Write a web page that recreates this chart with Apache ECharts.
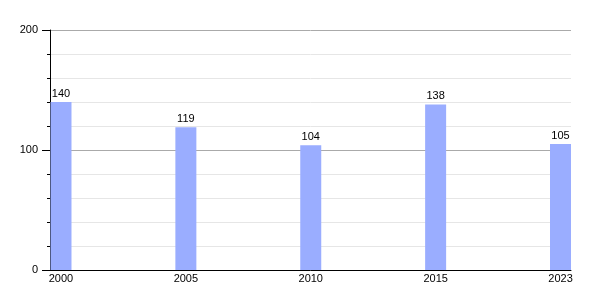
<!DOCTYPE html>
<html><head><meta charset="utf-8">
<script src="https://cdn.jsdelivr.net/npm/echarts@6/dist/echarts.min.js"></script>
<style>html,body{margin:0;padding:0;background:#fff}#c{width:600px;height:300px}</style>
</head><body><div id="c"></div>
<script>
const years = ['2000', '2005', '2010', '2015', '2023'];
const values = [140, 119, 104, 138, 105];
const yTicks = [0, 100, 200];

const chart = echarts.init(document.getElementById('c'), null, {renderer: 'canvas'});
const font = 'Liberation Sans, Arial, sans-serif';
chart.setOption({
  animation: false,
  grid: {left: 50, right: 29, top: 30, bottom: 30},
  xAxis: {
    type: 'value', min: -0.088, max: 4.084,
    axisLine: {show: true, onZero: false, lineStyle: {color: '#000', width: 1}},
    axisTick: {show: false},
    splitLine: {show: false},
    axisLabel: {
      customValues: years.map((y, i) => i),
      formatter: v => years[Math.round(v)],
      color: '#000', fontSize: 11, fontFamily: font, margin: 3
    }
  },
  yAxis: {
    type: 'value', min: 0, max: 200, interval: 100,
    axisLine: {show: true, onZero: false, lineStyle: {color: '#000', width: 1}},
    axisTick: {show: true, length: 8, lineStyle: {color: '#000'}},
    minorTick: {show: true, splitNumber: 5, length: 3, lineStyle: {color: '#000'}},
    splitLine: {show: true, lineStyle: {color: '#aaaaaa', width: 1}},
    minorSplitLine: {show: true, lineStyle: {color: '#e6e6e6', width: 1}},
    axisLabel: {
      customValues: yTicks,
      color: '#000', fontSize: 11, fontFamily: font, margin: 12
    }
  },
  series: [{
    type: 'bar',
    data: values.map((v, i) => [i, v]),
    barWidth: 21,
    itemStyle: {color: '#9aadff'},
    label: {show: true, position: 'top', distance: 3, color: '#000', fontSize: 11, fontFamily: font}
  }]
});
</script></body></html>
